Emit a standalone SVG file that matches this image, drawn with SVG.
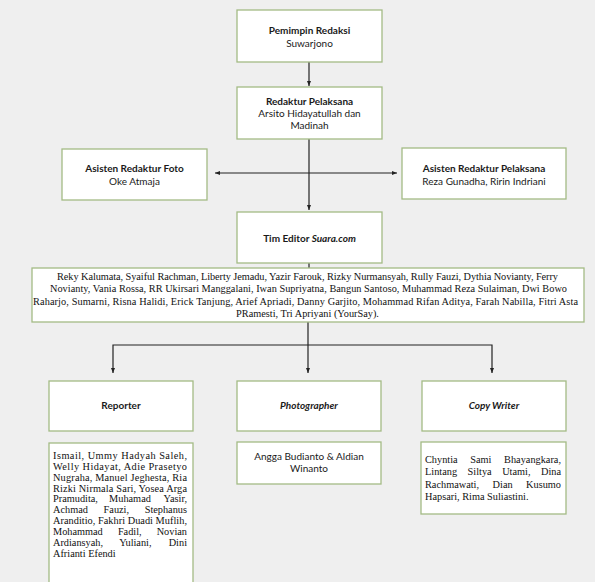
<svg xmlns="http://www.w3.org/2000/svg" width="595" height="582" viewBox="0 0 595 582">
<style>
.box{fill:#ffffff;stroke:#a3bb84;stroke-width:1.3}
.h{font-family:Lato,"Liberation Sans",sans-serif;font-size:10px;fill:#1a1a1a;text-anchor:middle}
.b{font-weight:bold}
.i{font-style:italic}
.t{font-family:"Liberation Serif","Times New Roman",serif;font-size:10.3px;fill:#111}
.c{stroke:#222;stroke-width:1.2;fill:none}
</style>
<defs>
<marker id="ah" viewBox="0 0 10 10" refX="10" refY="5" markerWidth="5" markerHeight="5" markerUnits="userSpaceOnUse" orient="auto-start-reverse">
<path d="M0,1 L10,5 L0,9 z" fill="#222"/>
</marker>
</defs>
<rect x="0" y="0" width="595" height="582" fill="#efefef"/>

<g id="connectors">
<path class="c" d="M309,62 V86" marker-end="url(#ah)"/>
<path class="c" d="M309,139 V210" marker-end="url(#ah)"/>
<path class="c" d="M215,173 H397" marker-start="url(#ah)" marker-end="url(#ah)"/>
<path class="c" d="M309,263 V268"/>
<path class="c" d="M308,322 V373" marker-end="url(#ah)"/>
<path class="c" d="M113,373 V345 H492 V373" marker-start="url(#ah)" marker-end="url(#ah)"/>
</g>

<g id="pemimpin">
<rect class="box" x="237" y="10" width="145" height="52"/>
<text class="h b" x="309.5" y="33.5">Pemimpin Redaksi</text>
<text class="h" x="309.5" y="47">Suwarjono</text>
</g>

<g id="redaktur">
<rect class="box" x="237" y="87" width="145" height="52"/>
<text class="h b" x="309.5" y="104.5">Redaktur Pelaksana</text>
<text class="h" x="309.5" y="117">Arsito Hidayatullah dan</text>
<text class="h" x="309.5" y="129">Madinah</text>
</g>

<g id="asisten-foto">
<rect class="box" x="62" y="149" width="145" height="51"/>
<text class="h b" x="134.5" y="172">Asisten Redaktur Foto</text>
<text class="h" x="134.5" y="185">Oke Atmaja</text>
</g>

<g id="asisten-pelaksana">
<rect class="box" x="402" y="148" width="164" height="51"/>
<text class="h b" x="484" y="172">Asisten Redaktur Pelaksana</text>
<text class="h" x="484" y="185">Reza Gunadha, Ririn Indriani</text>
</g>

<g id="tim-editor">
<rect class="box" x="237" y="212" width="145" height="51"/>
<text class="h b" x="309.5" y="242">Tim Editor <tspan class="i">Suara.com</tspan></text>
</g>

<g id="tim-list">
<rect class="box" x="32" y="268" width="552" height="54"/>
<text class="t" x="307.5" y="279.5" text-anchor="middle" textLength="501" lengthAdjust="spacing">Reky Kalumata, Syaiful Rachman, Liberty Jemadu, Yazir Farouk, Rizky Nurmansyah, Rully Fauzi, Dythia Novianty, Ferry</text>
<text class="t" x="308.5" y="292" text-anchor="middle" textLength="517" lengthAdjust="spacing">Novianty, Vania Rossa, RR Ukirsari Manggalani, Iwan Supriyatna, Bangun Santoso, Muhammad Reza Sulaiman, Dwi Bowo</text>
<text class="t" x="305.5" y="304.5" text-anchor="middle" textLength="545" lengthAdjust="spacing">Raharjo, Sumarni, Risna Halidi, Erick Tanjung, Arief Apriadi, Danny Garjito, Mohammad Rifan Aditya, Farah Nabilla, Fitri Asta</text>
<text class="t" x="307.5" y="317" text-anchor="middle">PRamesti, Tri Apriyani (YourSay).</text>
</g>

<g id="reporter">
<rect class="box" x="49" y="381" width="144" height="50"/>
<text class="h b" x="121" y="408.5">Reporter</text>
</g>

<g id="photographer">
<rect class="box" x="237" y="381" width="144" height="50"/>
<text class="h b i" x="309" y="408.5">Photographer</text>
</g>

<g id="copywriter">
<rect class="box" x="422" y="381" width="144" height="50"/>
<text class="h b i" x="494" y="408.5">Copy Writer</text>
</g>

<g id="reporter-list">
<rect class="box" x="49" y="443" width="144" height="160"/>
<text class="t" x="53" y="459" textLength="134" lengthAdjust="spacing">Ismail, Ummy Hadyah Saleh,</text>
<text class="t" x="53" y="469.9" textLength="134" lengthAdjust="spacing">Welly Hidayat, Adie Prasetyo</text>
<text class="t" x="53" y="480.7" textLength="134" lengthAdjust="spacing">Nugraha, Manuel Jeghesta, Ria</text>
<text class="t" x="53" y="491.6" textLength="134" lengthAdjust="spacing">Rizki Nirmala Sari, Yosea Arga</text>
<text class="t" x="53" y="502.4">Pramudita,</text>
<text class="t" x="109.1" y="502.4">Muhamad</text>
<text class="t" x="187" y="502.4" text-anchor="end">Yasir,</text>
<text class="t" x="53" y="513.3">Achmad</text>
<text class="t" x="103.6" y="513.3">Fauzi,</text>
<text class="t" x="187" y="513.3" text-anchor="end">Stephanus</text>
<text class="t" x="53" y="524.1" textLength="134" lengthAdjust="spacing">Aranditio, Fakhri Duadi Muflih,</text>
<text class="t" x="53" y="535">Mohammad</text>
<text class="t" x="117.9" y="535">Fadil,</text>
<text class="t" x="187" y="535" text-anchor="end">Novian</text>
<text class="t" x="53" y="545.8">Ardiansyah,</text>
<text class="t" x="119.2" y="545.8">Yuliani,</text>
<text class="t" x="187" y="545.8" text-anchor="end">Dini</text>
<text class="t" x="53" y="556.7">Afrianti Efendi</text>
</g>

<g id="photographer-list">
<rect class="box" x="237" y="442" width="144" height="42"/>
<text class="h" x="309" y="460">Angga Budianto &amp; Aldian</text>
<text class="h" x="309" y="472">Winanto</text>
</g>

<g id="copywriter-list">
<rect class="box" x="421" y="442" width="145" height="72"/>
<text class="t" x="425" y="462.5">Chyntia</text>
<text class="t" x="470.3" y="462.5">Sami</text>
<text class="t" x="561" y="462.5" text-anchor="end">Bhayangkara,</text>
<text class="t" x="425" y="475">Lintang</text>
<text class="t" x="467.6" y="475">Siltya</text>
<text class="t" x="502.2" y="475">Utami,</text>
<text class="t" x="561" y="475" text-anchor="end">Dina</text>
<text class="t" x="425" y="487.5">Rachmawati,</text>
<text class="t" x="492.6" y="487.5">Dian</text>
<text class="t" x="561" y="487.5" text-anchor="end">Kusumo</text>
<text class="t" x="425" y="500">Hapsari, Rima Suliastini.</text>
</g>
</svg>
